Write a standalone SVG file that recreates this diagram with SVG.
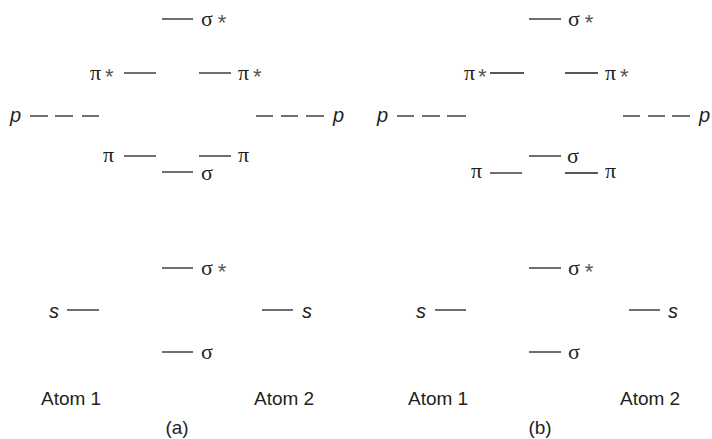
<svg xmlns="http://www.w3.org/2000/svg" width="712" height="439" viewBox="0 0 712 439">
<style>
.l{stroke:#231f20;stroke-width:1.3;fill:none}
.g{font-family:"Liberation Serif","DejaVu Serif",serif;font-size:22px;fill:#231f20}
.a{font-family:"Liberation Sans",Arial,sans-serif;font-size:22px;fill:#555}
.i{font-family:"Liberation Sans",Arial,sans-serif;font-style:italic;font-size:20px;fill:#231f20}
.t{font-family:"Liberation Sans",Arial,sans-serif;font-size:19px;fill:#231f20}
</style>
<rect width="712" height="439" fill="#fff"/>
<g id="panel-a">
<g id="a-sigma-star-p"><line class="l" x1="162" y1="19" x2="193" y2="19"/><text class="g" x="201" y="26">σ<tspan class="a" dx="5" dy="4">*</tspan></text></g>
<g id="a-pi-star-left"><text class="g" x="90" y="80">π<tspan class="a" dx="4" dy="4">*</tspan></text><line class="l" x1="124" y1="73" x2="156" y2="73"/></g>
<g id="a-pi-star-right"><line class="l" x1="199" y1="73" x2="231" y2="73"/><text class="g" x="238" y="80">π<tspan class="a" dx="4" dy="4">*</tspan></text></g>
<g id="a-p-left"><text class="i" x="10" y="122">p</text><line class="l" x1="30" y1="116" x2="48" y2="116"/><line class="l" x1="55" y1="116" x2="73" y2="116"/><line class="l" x1="82" y1="116" x2="99" y2="116"/></g>
<g id="a-p-right"><line class="l" x1="256" y1="116" x2="273" y2="116"/><line class="l" x1="281" y1="116" x2="298" y2="116"/><line class="l" x1="306" y1="116" x2="324" y2="116"/><text class="i" x="333" y="122">p</text></g>
<g id="a-pi-left"><text class="g" x="103" y="162">π</text><line class="l" x1="124" y1="156" x2="156" y2="156"/></g>
<g id="a-pi-right"><line class="l" x1="199" y1="156" x2="231" y2="156"/><text class="g" x="238" y="162">π</text></g>
<g id="a-sigma-p"><line class="l" x1="162" y1="172" x2="193" y2="172"/><text class="g" x="201" y="180">σ</text></g>
<g id="a-sigma-star-s"><line class="l" x1="162" y1="268" x2="193" y2="268"/><text class="g" x="201" y="275">σ<tspan class="a" dx="5" dy="4">*</tspan></text></g>
<g id="a-s-left"><text class="i" x="49" y="318">s</text><line class="l" x1="67" y1="310" x2="99" y2="310"/></g>
<g id="a-s-right"><line class="l" x1="262" y1="310" x2="293" y2="310"/><text class="i" x="302" y="318">s</text></g>
<g id="a-sigma-s"><line class="l" x1="162" y1="352" x2="193" y2="352"/><text class="g" x="201" y="359">σ</text></g>
<g id="a-atom1"><text class="t" x="41" y="405">Atom 1</text></g>
<g id="a-atom2"><text class="t" x="254" y="405">Atom 2</text></g>
<g id="a-label"><text class="t" x="177" y="434" text-anchor="middle">(a)</text></g>
</g>
<g id="panel-b">
<g id="b-sigma-star-p"><line class="l" x1="529" y1="19" x2="561" y2="19"/><text class="g" x="568" y="26">σ<tspan class="a" dx="5" dy="4">*</tspan></text></g>
<g id="b-pi-star-left"><text class="g" x="464" y="80">π<tspan class="a" dx="3" dy="4">*</tspan></text><line class="l" x1="490" y1="73" x2="524" y2="73"/></g>
<g id="b-pi-star-right"><line class="l" x1="565" y1="73" x2="598" y2="73"/><text class="g" x="605" y="80">π<tspan class="a" dx="4" dy="4">*</tspan></text></g>
<g id="b-p-left"><text class="i" x="377" y="122">p</text><line class="l" x1="397" y1="116" x2="414" y2="116"/><line class="l" x1="422" y1="116" x2="440" y2="116"/><line class="l" x1="447" y1="116" x2="466" y2="116"/></g>
<g id="b-p-right"><line class="l" x1="623" y1="116" x2="640" y2="116"/><line class="l" x1="648" y1="116" x2="665" y2="116"/><line class="l" x1="672" y1="116" x2="690" y2="116"/><text class="i" x="699" y="122">p</text></g>
<g id="b-sigma-p"><line class="l" x1="529" y1="156" x2="561" y2="156"/><text class="g" x="567" y="163">σ</text></g>
<g id="b-pi-left"><text class="g" x="471" y="178">π</text><line class="l" x1="490" y1="173" x2="522" y2="173"/></g>
<g id="b-pi-right"><line class="l" x1="565" y1="173" x2="598" y2="173"/><text class="g" x="605" y="178">π</text></g>
<g id="b-sigma-star-s"><line class="l" x1="529" y1="268" x2="561" y2="268"/><text class="g" x="568" y="275">σ<tspan class="a" dx="5" dy="4">*</tspan></text></g>
<g id="b-s-left"><text class="i" x="416" y="318">s</text><line class="l" x1="435" y1="310" x2="466" y2="310"/></g>
<g id="b-s-right"><line class="l" x1="629" y1="310" x2="660" y2="310"/><text class="i" x="668" y="318">s</text></g>
<g id="b-sigma-s"><line class="l" x1="529" y1="352" x2="561" y2="352"/><text class="g" x="568" y="359">σ</text></g>
<g id="b-atom1"><text class="t" x="408" y="405">Atom 1</text></g>
<g id="b-atom2"><text class="t" x="620" y="405">Atom 2</text></g>
<g id="b-label"><text class="t" x="540" y="434" text-anchor="middle">(b)</text></g>
</g>
<g id="connectors"/>
</svg>
